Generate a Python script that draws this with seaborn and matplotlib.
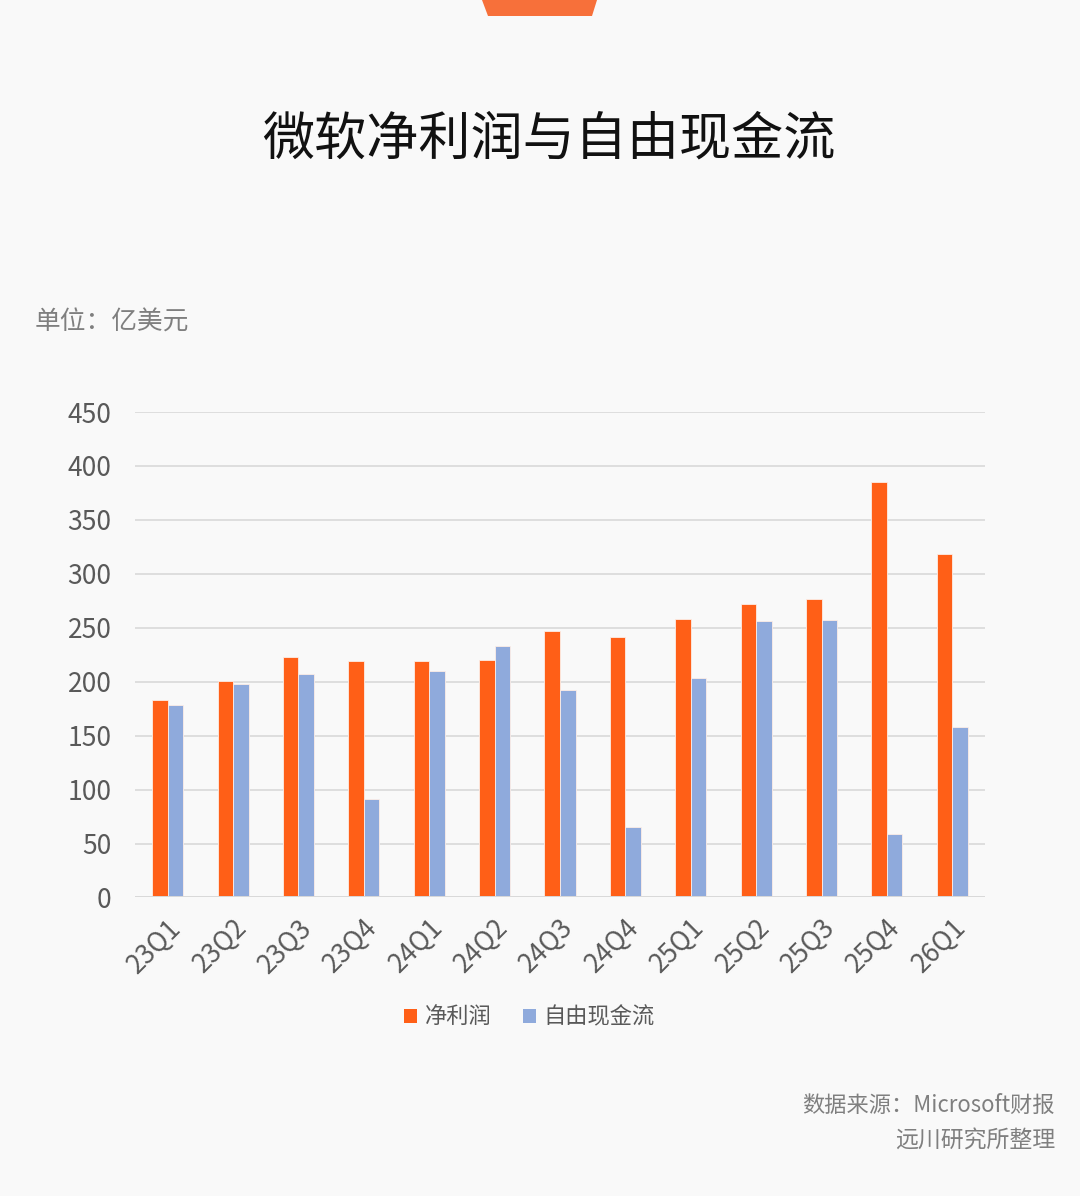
import pandas as pd
import matplotlib.pyplot as plt
import seaborn as sns
from matplotlib.patches import Polygon, Patch

quarters = ["23Q1", "23Q2", "23Q3", "23Q4", "24Q1", "24Q2", "24Q3",
            "24Q4", "25Q1", "25Q2", "25Q3", "25Q4", "26Q1"]
net_income = [183, 201, 223, 219, 219, 220, 247, 241, 258, 272, 277, 385, 318]
free_cash_flow = [178, 198, 207, 91, 210, 233, 192, 65, 203, 256, 257, 59, 158]
series_names = ["净利润", "自由现金流"]
colors = ["#FF5F17", "#8FAADC"]

df = pd.DataFrame({"quarter": quarters * 2,
                   "value": net_income + free_cash_flow,
                   "series": [series_names[0]] * len(quarters) + [series_names[1]] * len(quarters)})

sns.set_style("white")
plt.rcParams["font.family"] = ["Noto Sans CJK SC", "DejaVu Sans"]

bg = "#F9F9F9"
fig = plt.figure(figsize=(10.8, 11.96), dpi=100, facecolor=bg)
ax = fig.add_axes([0.125, 0.2496, 0.787, 0.4059])
ax.set_facecolor(bg)

sns.barplot(data=df, x="quarter", y="value", hue="series", palette=colors, saturation=1,
            width=0.475, gap=0, edgecolor="#FDEDE6", linewidth=0.6, ax=ax, zorder=3)

ax.set_ylim(0, 450)
ax.set_xlim(-0.5, len(quarters) - 0.5)
ax.set_yticks(range(0, 451, 50))
ax.yaxis.grid(True, color="#D9D9D9", linewidth=1.2, zorder=0)
ax.xaxis.grid(False)
for s in ax.spines.values():
    s.set_visible(False)
ax.axhline(0, color="#D9D9D9", linewidth=1.4, zorder=4)
ax.set_xlabel("")
ax.set_ylabel("")
ax.tick_params(axis="both", length=0, labelsize=19, labelcolor="#595959")
ax.tick_params(axis="y", pad=17)
ax.tick_params(axis="x", pad=12)
for lbl in ax.get_xticklabels():
    lbl.set_rotation(45)
    lbl.set_ha("right")
    lbl.set_rotation_mode("anchor")

ax.legend_.remove()
handles = [Patch(facecolor=c, edgecolor="none") for c in colors]
fig.legend(handles, series_names, loc="center", bbox_to_anchor=(0.49, 0.1497),
           ncol=2, frameon=False, fontsize=16, handlelength=0.6, handleheight=0.6,
           handletextpad=0.35, columnspacing=1.4, labelcolor="#595959")

fig.text(0.508, 0.883, "微软净利润与自由现金流", ha="center", va="center",
         fontsize=37.5, color="#111111")
fig.text(0.032, 0.730, "单位：亿美元", ha="left", va="center", fontsize=18.5, color="#7F7F7F")
fig.text(0.977, 0.076, "数据来源：Microsoft财报", ha="right", va="center", fontsize=16, color="#7F7F7F")
fig.text(0.977, 0.046, "远川研究所整理", ha="right", va="center", fontsize=16.5, color="#7F7F7F")

tab = Polygon([[482 / 1080, 1.0], [597 / 1080, 1.0], [592 / 1080, 1 - 16 / 1196], [488 / 1080, 1 - 16 / 1196]],
              closed=True, transform=fig.transFigure, facecolor="#F7703A", edgecolor="none")
fig.patches.append(tab)

fig.savefig("out.png", dpi=100, facecolor=bg)
